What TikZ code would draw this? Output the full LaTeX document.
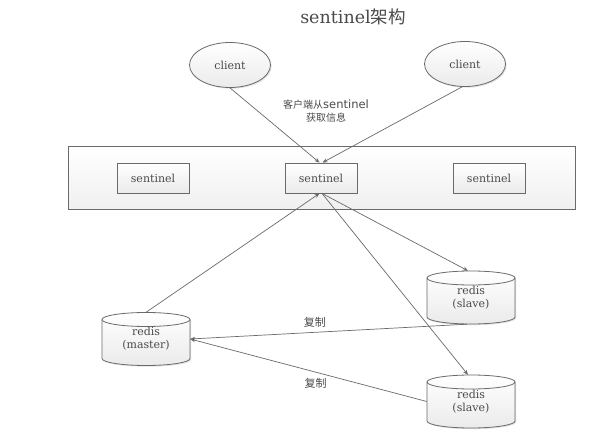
\documentclass[tikz,border=0pt]{standalone}
\usepackage{fontspec}
\setmainfont{DejaVu Serif}
\newfontfamily\cjk{Noto Sans CJK SC}
\newfontfamily\lsans{DejaVu Sans}
\usetikzlibrary{shapes.geometric,shadows,arrows.meta}
\definecolor{ln}{HTML}{6A6A6A}
\definecolor{tx}{HTML}{4A4A4A}
\newcommand\rcyl[2]{%
 \begin{scope}[shift={(#1,#2)}]
  \fill[gray!45, opacity=.5, shift={(1.2pt,-1.2pt)}] (-44,-19.5) -- (-44,19.5) arc[start angle=180,end angle=0,x radius=44,y radius=7] -- (44,-19.5) arc[start angle=0,end angle=-180,x radius=44,y radius=7] -- cycle;
  \path[top color=white,bottom color=gray!16] (-44,-19.5) -- (-44,19.5) arc[start angle=180,end angle=0,x radius=44,y radius=7] -- (44,-19.5) arc[start angle=0,end angle=-180,x radius=44,y radius=7] -- cycle;
  \draw[ln, line width=0.8pt] (-44,-19.5) -- (-44,19.5) arc[start angle=180,end angle=0,x radius=44,y radius=7] -- (44,-19.5) arc[start angle=0,end angle=-180,x radius=44,y radius=7] -- cycle;
  \draw[ln, line width=0.8pt] (-44,-19.5) arc[start angle=180,end angle=0,x radius=44,y radius=7];
 \end{scope}}
\begin{document}
\begin{tikzpicture}[x=1pt,y=-1pt,
  every node/.style={text=tx, font=\fontsize{11}{13.5}\selectfont},
  shd/.style={drop shadow={shadow xshift=1.2pt, shadow yshift=-1.2pt, fill=gray!45, opacity=.5}},
  clientnode/.style={ellipse, draw=ln, line width=0.8pt, top color=white, bottom color=gray!16, shd, minimum width=81pt, minimum height=45pt, inner sep=0pt},
  groupbox/.style={rectangle, draw=ln, line width=0.8pt, top color=white, bottom color=gray!12, shd, minimum width=507pt, minimum height=63pt, inner sep=0pt},
  sentbox/.style={rectangle, draw=ln, line width=0.8pt, top color=white, bottom color=gray!16, shd, minimum width=72pt, minimum height=30pt, inner sep=0pt},
  dbnode/.style={draw=none, minimum width=88pt, minimum height=53pt, inner sep=0pt, align=center, font=\fontsize{11}{13}\selectfont},
  arr/.style={draw=ln, line width=0.7pt, -{Stealth[length=5pt,width=4pt]}},
  lbl/.style={font=\cjk\fontsize{11}{13}\selectfont, text=tx}
]
\fill[white] (0,0) rectangle (606,444);
\useasboundingbox (0,0) rectangle (606,444);

\node (title) at (353,17) {\fontsize{17.5}{20}\selectfont sentinel{\cjk 架构}};

\node[clientnode] (c1) at (230,65) {client};
\node[clientnode] (c2) at (465,64) {client};

\node[align=center, font=\fontsize{10.5}{13.5}\selectfont] (info) at (326,111) {{\cjk\fontsize{10}{12}\selectfont 客户端从}{\lsans\fontsize{11.5}{13}\selectfont sentinel}\\{\cjk\fontsize{10}{12}\selectfont 获取信息}};

\node[groupbox] (grp) at (321.5,177.5) {};
\node[sentbox] (s1) at (153,178) {sentinel};
\node[sentbox] (s2) at (321,178) {sentinel};
\node[sentbox] (s3) at (489,178) {sentinel};

\rcyl{146}{339}
\rcyl{471}{297.5}
\rcyl{471}{401.5}
\node[dbnode] (m) at (146,339) {redis\\(master)};
\node[dbnode] (r1) at (471,297.5) {redis\\(slave)};
\node[dbnode] (r2) at (471,401.5) {redis\\(slave)};

\draw[arr] (c1.south) -- ([xshift=-1.5pt]s2.north);
\draw[arr] ([xshift=-3pt]c2.south) -- ([xshift=1.5pt]s2.north);
\draw[arr] (m.north) -- ([xshift=-1.5pt]s2.south);
\draw[arr] ([xshift=1pt]s2.south) -- ([xshift=-3pt]r1.north);
\draw[arr] ([xshift=1pt]s2.south) -- ([xshift=-3pt]r2.north);
\draw[arr] ([xshift=-4pt]r1.south) -- node[lbl, pos=0.55, above=1pt] {复制} (m.east);
\draw[arr] (r2.west) -- node[lbl, pos=0.47, below=2pt] {复制} (m.east);
\end{tikzpicture}
\end{document}
